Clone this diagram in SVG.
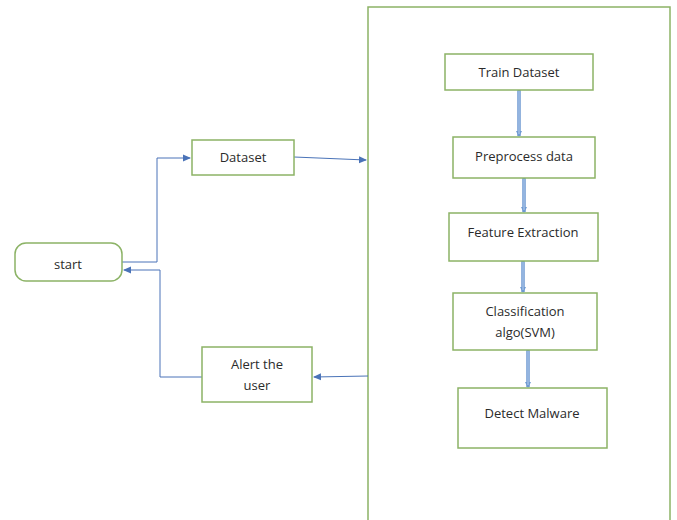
<svg xmlns="http://www.w3.org/2000/svg" width="677" height="520" viewBox="0 0 677 520">
<style>
.box{fill:#fff;stroke:#8cb366;stroke-width:1.5}
.lbl{font-family:"Open Sans","Liberation Sans",sans-serif;font-size:13px;fill:#2b2b2b;text-anchor:middle;dominant-baseline:central}
.thin{fill:none;stroke:#4a73b8;stroke-width:1}
.dbl{fill:none;stroke:#6f9ad2;stroke-width:3.5}
.dbl2{fill:none;stroke:#b9cfee;stroke-width:1}
</style>
<defs>
<marker id="ah" markerWidth="8" markerHeight="8" refX="7" refY="4" orient="auto" markerUnits="userSpaceOnUse">
<path d="M0,0.5 L8,4 L0,7.5 Z" fill="#4a73b8"/>
</marker>
<marker id="ah2" markerWidth="6" markerHeight="6" refX="5" refY="3" orient="auto" markerUnits="userSpaceOnUse">
<path d="M0,0 L6,3 L0,6 Z" fill="#6f9ad2"/>
</marker>
</defs>
<g id="container"><rect x="368" y="7" width="302" height="516" fill="#fff" stroke="#8cb366" stroke-width="1.5"/></g>
<g id="connectors">
<path class="thin" d="M122,262 H157 V158 H190" marker-end="url(#ah)"/>
<path class="thin" d="M294,157 L366,160" marker-end="url(#ah)"/>
<path class="thin" d="M368,376 L314,377" marker-end="url(#ah)"/>
<path class="thin" d="M202,377 H160 V270 H124" marker-end="url(#ah)"/>
<path class="dbl" d="M519,90 V136" marker-end="url(#ah2)"/>
<path class="dbl2" d="M519,91 V134"/>
<path class="dbl" d="M524,178 V212" marker-end="url(#ah2)"/>
<path class="dbl2" d="M524,179 V210"/>
<path class="dbl" d="M523,261 V292" marker-end="url(#ah2)"/>
<path class="dbl2" d="M523,262 V290"/>
<path class="dbl" d="M528,350 V387" marker-end="url(#ah2)"/>
<path class="dbl2" d="M528,351 V385"/>
</g>
<g id="start"><rect class="box" x="15" y="243" width="107" height="38" rx="11"/><text class="lbl" x="68" y="264">start</text></g>
<g id="dataset"><rect class="box" x="192" y="140" width="102" height="35"/><text class="lbl" x="243" y="157">Dataset</text></g>
<g id="alert"><rect class="box" x="202" y="347" width="110" height="55"/><text class="lbl" x="257" y="364">Alert the</text><text class="lbl" x="257" y="385">user</text></g>
<g id="train"><rect class="box" x="445" y="54" width="148" height="36"/><text class="lbl" x="519" y="72">Train Dataset</text></g>
<g id="preprocess"><rect class="box" x="453" y="137" width="142" height="41"/><text class="lbl" x="524" y="156">Preprocess data</text></g>
<g id="feature"><rect class="box" x="449" y="213" width="149" height="48"/><text class="lbl" x="523" y="232">Feature Extraction</text></g>
<g id="classification"><rect class="box" x="453" y="293" width="144" height="57"/><text class="lbl" x="525" y="311">Classification</text><text class="lbl" x="525" y="332">algo(SVM)</text></g>
<g id="detect"><rect class="box" x="458" y="388" width="149" height="60"/><text class="lbl" x="532" y="413">Detect Malware</text></g>
</svg>
